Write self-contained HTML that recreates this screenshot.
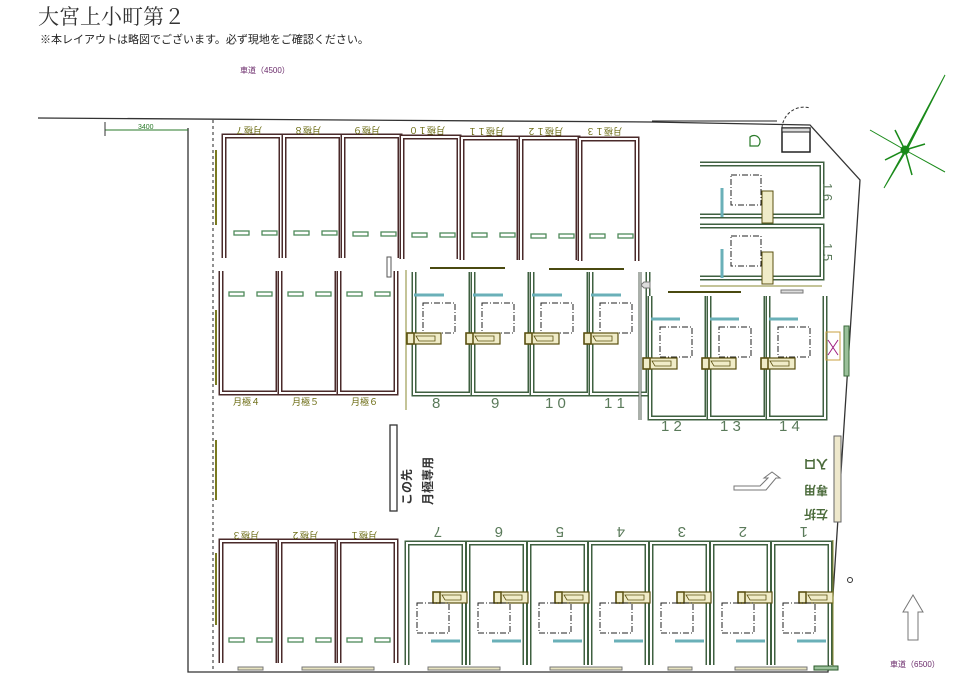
<!DOCTYPE html>
<html><head><meta charset="utf-8"><style>
html,body{margin:0;padding:0;background:#fff;width:960px;height:682px;overflow:hidden}
svg{display:block}
text{font-family:"Liberation Sans","Noto Sans CJK JP",sans-serif}
</style></head><body>
<svg width="960" height="682" viewBox="0 0 960 682" xmlns="http://www.w3.org/2000/svg">
<defs>
<g id="gU"><path d="M0,0V122H57V0" fill="none" stroke="#3f6040" stroke-width="5"/><path d="M0,0V122H57V0" fill="none" stroke="#fff" stroke-width="2"/></g>
<g id="mU"><path d="M0,0V122H57V0" fill="none" stroke="#4a2a2a" stroke-width="5"/><path d="M0,0V122H57V0" fill="none" stroke="#fff" stroke-width="2"/></g>
<g id="hU"><path d="M0,0H122V52H0" fill="none" stroke="#3f6040" stroke-width="5"/><path d="M0,0H122V52H0" fill="none" stroke="#fff" stroke-width="2"/></g>
<g id="dash2"><rect x="10" y="0" width="15" height="4" fill="none" stroke="#4f8a5a" stroke-width="1.3"/><rect x="38" y="0" width="15" height="4" fill="none" stroke="#4f8a5a" stroke-width="1.3"/></g>
<g id="car"><rect x="0" y="0" width="34" height="11" fill="#f0ecc8" stroke="#5a5010" stroke-width="1.2"/><rect x="0" y="0" width="7" height="11" fill="none" stroke="#5a5010" stroke-width="1.5"/><path d="M9,3H28V8H12Z" fill="none" stroke="#5a5010" stroke-width="0.8"/></g>
<g id="dbox"><rect x="0" y="0" width="32" height="30" fill="none" stroke="#222" stroke-width="1" stroke-dasharray="6,2,1,2"/></g>
</defs>

<text x="38" y="24" font-size="21" fill="#333" style="font-family:'Liberation Serif','Noto Serif CJK SC',serif">大宮上小町第２</text>
<text x="40" y="43" font-size="11" fill="#222">※本レイアウトは略図でございます。必ず現地をご確認ください。</text>
<text x="240" y="73" font-size="8" fill="#6a2a6a">車道（4500）</text>
<text x="890" y="667" font-size="8" fill="#6a2a6a">車道（6500）</text>

<!-- boundary -->
<path d="M38,118 L650,122 L810,125 L860,180 L828,672 L188,672 L188,128" fill="none" stroke="#333" stroke-width="1.3"/>
<line x1="213" y1="120" x2="213" y2="672" stroke="#222" stroke-width="1" stroke-dasharray="3,3"/>
<line x1="105" y1="130" x2="188" y2="130" stroke="#2a7a2a" stroke-width="1"/>
<line x1="105" y1="122" x2="105" y2="136" stroke="#333"/>
<text x="138" y="129" font-size="7" fill="#2a7a2a">3400</text>
<line x1="652" y1="121" x2="777" y2="121" stroke="#222" stroke-width="1"/>
<path d="M782,128 A22,22 0 0 1 810,108" fill="none" stroke="#333" stroke-dasharray="3,2"/>
<rect x="782" y="128" width="28" height="24" fill="none" stroke="#222" stroke-width="1.5"/>
<rect x="782" y="128" width="28" height="4" fill="#ddd" stroke="#222"/>
<path d="M750,146 V137 A6,6 0 0 1 758,146 Z" fill="none" stroke="#2a7a2a" stroke-width="1.2"/>

<!-- left olive lines -->
<line x1="216" y1="150" x2="216" y2="225" stroke="#7a7a20" stroke-width="2"/>
<line x1="216" y1="310" x2="216" y2="385" stroke="#7a7a20" stroke-width="2"/>
<line x1="216" y1="440" x2="216" y2="500" stroke="#7a7a20" stroke-width="2"/>
<line x1="216" y1="553" x2="216" y2="625" stroke="#7a7a20" stroke-width="2"/>

<!-- top monthly row (open bottom) -->
<g>
<use href="#mU" transform="translate(224,258) scale(1,-1)"/>
<use href="#mU" transform="translate(284,258) scale(1,-1)"/>
<use href="#mU" transform="translate(343,258) scale(1,-1)"/>
<use href="#mU" transform="translate(402,259) scale(1,-1)"/>
<use href="#mU" transform="translate(462,260) scale(1,-1)"/>
<use href="#mU" transform="translate(521,260) scale(1,-1)"/>
<use href="#mU" transform="translate(580,261) scale(1,-1)"/>
<use href="#dash2" transform="translate(224,231)"/><use href="#dash2" transform="translate(284,231)"/><use href="#dash2" transform="translate(343,232)"/><use href="#dash2" transform="translate(402,233)"/><use href="#dash2" transform="translate(462,233)"/><use href="#dash2" transform="translate(521,234)"/><use href="#dash2" transform="translate(580,234)"/>
</g>
<g font-size="9" fill="#6a6a10">
<text transform="translate(262,127) rotate(180)">月極７</text>
<text transform="translate(321,127) rotate(180)">月極８</text>
<text transform="translate(380,127) rotate(180)">月極９</text>
<text transform="translate(445,127) rotate(180)">月極１０</text>
<text transform="translate(504,128) rotate(180)">月極１１</text>
<text transform="translate(563,128) rotate(180)">月極１２</text>
<text transform="translate(622,128) rotate(180)">月極１３</text>
</g>

<!-- row 2 monthly (open top) -->
<use href="#mU" transform="translate(221,271)"/>
<use href="#mU" transform="translate(280,271)"/>
<use href="#mU" transform="translate(339,271)"/>
<use href="#dash2" transform="translate(219,292)"/><use href="#dash2" transform="translate(278,292)"/><use href="#dash2" transform="translate(337,292)"/>
<g font-size="9" fill="#6a6a10"><text x="233" y="405">月極４</text><text x="292" y="405">月極５</text><text x="351" y="405">月極６</text></g>
<rect x="387" y="257" width="4" height="20" fill="none" stroke="#555"/>

<!-- 8-11 -->
<line x1="406" y1="270" x2="406" y2="410" stroke="#8a8a30" stroke-width="1"/>
<line x1="430" y1="268" x2="505" y2="268" stroke="#4a4a10" stroke-width="2"/>
<line x1="549" y1="269" x2="624" y2="269" stroke="#4a4a10" stroke-width="2"/>
<g>
<use href="#gU" transform="translate(414,272)"/><use href="#gU" transform="translate(473,272)"/><use href="#gU" transform="translate(532,272)"/><use href="#gU" transform="translate(591,272)"/>
<g stroke="#6ab0b8" stroke-width="3"><line x1="414" y1="295" x2="444" y2="295"/><line x1="473" y1="295" x2="503" y2="295"/><line x1="532" y1="295" x2="562" y2="295"/><line x1="591" y1="295" x2="621" y2="295"/></g>
<use href="#dbox" transform="translate(423,303)"/><use href="#dbox" transform="translate(482,303)"/><use href="#dbox" transform="translate(541,303)"/><use href="#dbox" transform="translate(600,303)"/>
<use href="#car" transform="translate(407,333)"/><use href="#car" transform="translate(466,333)"/><use href="#car" transform="translate(525,333)"/><use href="#car" transform="translate(584,333)"/>
</g>
<g font-size="15" fill="#5a7a5a" font-family="Liberation Serif,serif"><text x="432" y="408">8</text><text x="491" y="408">9</text><text x="545" y="408">1 0</text><text x="604" y="408">1 1</text></g>

<!-- 12-14 -->
<line x1="640" y1="272" x2="640" y2="420" stroke="#556055" stroke-width="3"/>
<line x1="640" y1="272" x2="640" y2="420" stroke="#fff" stroke-width="1"/>
<line x1="668" y1="292" x2="741" y2="292" stroke="#4a4a10" stroke-width="2"/>
<rect x="781" y="290" width="22" height="3" fill="#ddd" stroke="#777"/>
<path d="M650,282 h-6 l-3,3 3,3 h6z" fill="#ddd" stroke="#777"/>
<use href="#gU" transform="translate(650,296)"/><use href="#gU" transform="translate(709,296)"/><use href="#gU" transform="translate(768,296)"/>
<g stroke="#6ab0b8" stroke-width="3"><line x1="651" y1="319" x2="680" y2="319"/><line x1="710" y1="319" x2="739" y2="319"/><line x1="769" y1="319" x2="798" y2="319"/></g>
<use href="#dbox" transform="translate(660,327)"/><use href="#dbox" transform="translate(719,327)"/><use href="#dbox" transform="translate(778,327)"/>
<use href="#car" transform="translate(643,358)"/><use href="#car" transform="translate(702,358)"/><use href="#car" transform="translate(761,358)"/>
<g font-size="15" fill="#5a7a5a" font-family="Liberation Serif,serif"><text x="661" y="431">1 2</text><text x="720" y="431">1 3</text><text x="779" y="431">1 4</text></g>

<!-- 15,16 -->
<use href="#hU" transform="translate(700,164)"/>
<use href="#hU" transform="translate(700,226)"/>
<line x1="700" y1="286" x2="822" y2="286" stroke="#8a8a30"/>
<line x1="722" y1="188" x2="722" y2="217" stroke="#6ab0b8" stroke-width="3"/>
<line x1="722" y1="249" x2="722" y2="278" stroke="#6ab0b8" stroke-width="3"/>
<rect x="731" y="175" width="30" height="30" fill="none" stroke="#222" stroke-dasharray="6,2,1,2"/>
<rect x="731" y="236" width="30" height="30" fill="none" stroke="#222" stroke-dasharray="6,2,1,2"/>
<rect x="762" y="191" width="11" height="32" fill="#f0ecc8" stroke="#5a5010"/>
<rect x="762" y="252" width="11" height="32" fill="#f0ecc8" stroke="#5a5010"/>
<g font-size="13" fill="#5a7a5a" font-family="Liberation Serif,serif"><text transform="translate(823,183) rotate(90)">1 6</text><text transform="translate(823,243) rotate(90)">1 5</text></g>

<!-- right small things -->
<rect x="826" y="332" width="14" height="28" fill="none" stroke="#c8a040"/>
<path d="M828,340 L838,355 M838,340 L828,355" stroke="#a02080"/>
<rect x="844" y="326" width="5" height="50" fill="#9ac09a" stroke="#3a6a3a"/>
<circle cx="850" cy="580" r="2.5" fill="none" stroke="#333"/>

<!-- center notice -->
<rect x="390" y="425" width="7" height="86" fill="#fff" stroke="#333" stroke-width="1.3"/>
<g font-size="12" font-weight="bold" fill="#333"><text transform="translate(411,505) rotate(-90)">この先</text><text transform="translate(432,505) rotate(-90)">月極専用</text></g>

<!-- arrow and entry sign -->
<path d="M734,486 H760 L768,478 H764 L772,472 L780,478 H776 L766,490 H734 Z" fill="#fff" stroke="#777"/>
<rect x="834" y="436" width="7" height="86" fill="#eee8cc" stroke="#666"/>
<g font-size="12" font-weight="bold" fill="#4a6a3a"><text transform="translate(828,460) rotate(180)">入口</text><text transform="translate(828,486) rotate(180)">専用</text><text transform="translate(828,510) rotate(180)">左折</text></g>

<!-- bottom monthly -->
<use href="#mU" transform="translate(221,663) scale(1,-1)"/>
<use href="#mU" transform="translate(280,663) scale(1,-1)"/>
<use href="#mU" transform="translate(339,663) scale(1,-1)"/>
<use href="#dash2" transform="translate(219,638)"/><use href="#dash2" transform="translate(278,638)"/><use href="#dash2" transform="translate(337,638)"/>
<g font-size="9" fill="#6a6a10"><text transform="translate(259,532) rotate(180)">月極３</text><text transform="translate(318,532) rotate(180)">月極２</text><text transform="translate(377,532) rotate(180)">月極１</text></g>

<!-- bottom green 7..1 -->
<use href="#gU" transform="translate(407,665) scale(1,-1)"/><use href="#gU" transform="translate(468,665) scale(1,-1)"/><use href="#gU" transform="translate(529,665) scale(1,-1)"/><use href="#gU" transform="translate(590,665) scale(1,-1)"/><use href="#gU" transform="translate(651,665) scale(1,-1)"/><use href="#gU" transform="translate(712,665) scale(1,-1)"/><use href="#gU" transform="translate(773,665) scale(1,-1)"/>
<use href="#car" transform="translate(433,592)"/><use href="#car" transform="translate(494,592)"/><use href="#car" transform="translate(555,592)"/><use href="#car" transform="translate(616,592)"/><use href="#car" transform="translate(677,592)"/><use href="#car" transform="translate(738,592)"/><use href="#car" transform="translate(799,592)"/>
<use href="#dbox" transform="translate(417,603)"/><use href="#dbox" transform="translate(478,603)"/><use href="#dbox" transform="translate(539,603)"/><use href="#dbox" transform="translate(600,603)"/><use href="#dbox" transform="translate(661,603)"/><use href="#dbox" transform="translate(722,603)"/><use href="#dbox" transform="translate(783,603)"/>
<g stroke="#6ab0b8" stroke-width="3"><line x1="431" y1="641" x2="460" y2="641"/><line x1="492" y1="641" x2="521" y2="641"/><line x1="553" y1="641" x2="582" y2="641"/><line x1="614" y1="641" x2="643" y2="641"/><line x1="675" y1="641" x2="704" y2="641"/><line x1="736" y1="641" x2="765" y2="641"/><line x1="797" y1="641" x2="826" y2="641"/></g>
<g font-size="15" fill="#5a7a5a" font-family="Liberation Serif,serif"><text transform="translate(442,527) rotate(180)">7</text><text transform="translate(503,527) rotate(180)">6</text><text transform="translate(564,527) rotate(180)">5</text><text transform="translate(625,527) rotate(180)">4</text><text transform="translate(686,527) rotate(180)">3</text><text transform="translate(747,527) rotate(180)">2</text><text transform="translate(808,527) rotate(180)">1</text></g>
<line x1="833" y1="540" x2="833" y2="668" stroke="#8a8a30"/>
<g fill="#e8e4c0" stroke="#777"><rect x="238" y="667" width="25" height="3"/><rect x="302" y="667" width="72" height="3"/><rect x="428" y="667" width="72" height="3"/><rect x="550" y="667" width="72" height="3"/><rect x="668" y="667" width="24" height="3"/><rect x="735" y="667" width="72" height="3"/></g>
<rect x="814" y="666" width="24" height="4" fill="#9ac09a" stroke="#2a5a2a"/>

<!-- compass -->
<g stroke="#1a8a1a" fill="#1a8a1a">
<path d="M945,75 L908,148 L884,188 L904,152 Z"/>
<path d="M870,130 L905,150 L945,172" fill="none" stroke-width="1"/>
<path d="M895,130 L905,150 L912,175" fill="none" stroke-width="1.5"/>
<path d="M885,160 L905,150 L925,144" fill="none" stroke-width="1.5"/>
<circle cx="905" cy="150" r="4"/>
</g>
<path d="M908,640 V612 H903 L913,595 L923,612 H918 V640 Z" fill="#fff" stroke="#777"/>
</svg>
</body></html>
